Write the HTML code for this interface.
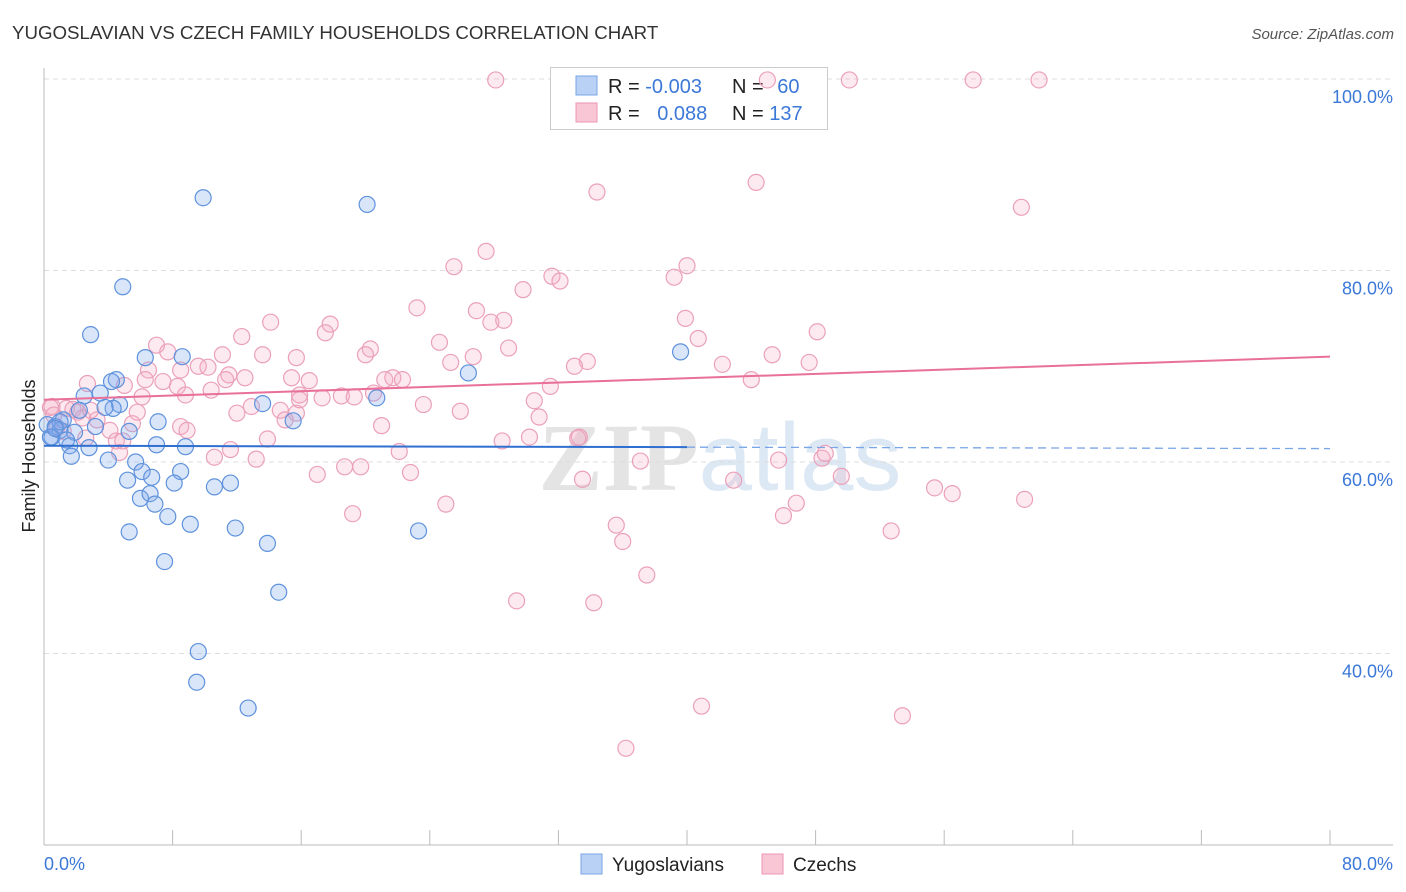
<!DOCTYPE html>
<html><head><meta charset="utf-8"><style>
body{margin:0;background:#fff;font-family:"Liberation Sans",sans-serif}
#wrap{position:relative;width:1406px;height:892px;overflow:hidden}
</style></head><body>
<div id="wrap">
<svg id="svg" width="1406" height="892" xmlns="http://www.w3.org/2000/svg">
<text x="12" y="39" font-size="18.7" fill="#333">YUGOSLAVIAN VS CZECH FAMILY HOUSEHOLDS CORRELATION CHART</text>
<text x="1394" y="39" font-size="15" fill="#555" text-anchor="end" font-style="italic">Source: ZipAtlas.com</text>
<text x="720" y="490" font-size="96" fill="#e4e4e4" text-anchor="middle" font-family="Liberation Serif" font-weight="bold">ZIP<tspan fill="#dde8f5" font-family="Liberation Sans" font-weight="normal">atlas</tspan></text>
<g id="grid"></g>
<g>
<rect x="550.5" y="67.5" width="277" height="62" fill="#fff" stroke="#ccc"/>
<rect x="576" y="76" width="21" height="19" fill="#b9d1f5" stroke="#7aa5e6"/>
<rect x="576" y="103" width="21" height="19" fill="#f9c6d6" stroke="#ec95b4"/>
<text x="608" y="93" font-size="20" fill="#222">R = <tspan fill="#3b78d8">-0.003</tspan></text>
<text x="732" y="93" font-size="20" fill="#222">N = <tspan fill="#3b78d8" dx="8">60</tspan></text>
<text x="608" y="120" font-size="20" fill="#222">R = <tspan fill="#3b78d8" dx="12">0.088</tspan></text>
<text x="732" y="120" font-size="20" fill="#222">N = <tspan fill="#3b78d8">137</tspan></text>
</g>
<g id="pts"></g><g id="lines"></g>
<text transform="translate(35,456) rotate(-90)" font-size="18" fill="#222" text-anchor="middle">Family Households</text>
<rect x="581" y="854" width="21" height="20" fill="#b9d1f5" stroke="#7aa5e6"/>
<text x="612" y="871" font-size="19" fill="#222">Yugoslavians</text>
<rect x="762" y="854" width="21" height="20" fill="#f9c6d6" stroke="#ec95b4"/>
<text x="793" y="871" font-size="19" fill="#222">Czechs</text>
</svg></div>
<script>
const yTicks=[40,60,80,100];
const xTicks=[0,8,16,24,32,40,48,56,64,72,80];
const blueX=[9.9,20.1,4.9,2.9,8.6,6.3,26.4,4.5,4.2,2.5,3.5,20.7,13.6,4.7,4.3,3.8,2.2,1.2,15.5,7.1,3.2,0.2,0.7,1.0,0.5,1.9,5.3,7.0,8.8,1.6,2.8,1.7,4.0,5.7,8.5,6.1,6.7,5.2,8.1,10.6,11.6,6.0,6.6,6.9,7.7,9.1,11.9,5.3,23.3,13.9,7.5,14.6,9.6,9.5,12.7,39.6,0.4,1.0,0.7,1.4];
const blueY=[87.6,86.9,78.3,73.3,71.0,70.9,69.3,68.6,68.4,66.9,67.2,66.7,66.1,66.0,65.6,65.7,65.4,64.4,64.3,64.2,63.7,63.9,63.7,63.3,62.6,63.1,63.2,61.8,61.6,61.7,61.5,60.6,60.2,60.0,59.0,59.0,58.4,58.1,57.8,57.4,57.8,56.2,56.7,55.6,54.3,53.5,53.1,52.7,52.8,51.5,49.6,46.4,40.2,37.0,34.3,71.5,62.6,64.2,63.5,62.3];
const pinkX=[28.1,45.0,50.1,57.8,61.9,34.4,44.3,60.8,27.5,25.5,40.0,39.2,31.6,32.1,29.8,23.2,26.9,27.8,28.6,39.9,48.1,14.1,17.8,12.3,17.5,7.0,24.6,20.3,20.0,28.9,40.7,45.3,47.6,7.7,13.6,11.1,26.7,15.7,33.8,33.0,42.2,25.3,9.6,10.2,8.5,6.5,2.7,5.0,6.3,7.4,8.3,10.4,11.5,12.5,11.3,15.4,16.5,21.2,21.7,22.3,44.0,31.5,20.5,8.8,6.1,17.3,18.5,19.3,30.5,23.6,25.9,12.9,14.7,12.0,5.8,15.7,15.0,30.8,15.9,0.5,1.4,1.8,2.1,2.4,3.3,4.1,5.5,8.5,21.0,0.8,1.2,2.6,4.5,13.9,28.5,30.2,33.2,22.1,4.7,10.6,13.2,37.1,45.7,48.4,48.6,18.7,19.7,22.8,17.0,33.5,49.6,42.9,25.0,55.4,56.5,61.0,46.8,46.0,19.2,35.6,36.0,52.7,37.5,29.4,34.2,40.9,53.4,36.2,33.3,0.4,2.9,0.6,4.9,8.9,11.6,15.9];
const pinkY=[99.9,99.9,99.9,99.9,99.9,88.2,89.2,86.6,82.0,80.4,80.5,79.3,79.4,78.9,78.0,76.1,75.8,74.6,74.8,75.0,73.6,74.6,74.4,73.1,73.5,72.2,72.5,71.8,71.2,71.9,72.9,71.2,70.4,71.5,71.2,71.2,71.0,70.9,70.5,70.0,70.2,70.4,70.0,69.9,69.6,69.6,68.2,68.0,68.6,68.4,67.9,67.5,69.1,68.8,68.6,68.8,68.5,68.6,68.8,68.6,68.6,67.9,67.2,67.0,66.8,66.7,66.9,66.8,66.4,66.0,65.3,65.8,65.4,65.1,65.2,65.1,64.4,64.7,66.5,65.8,65.6,65.5,65.2,64.6,64.4,63.3,64.0,63.7,63.8,63.6,63.2,62.5,62.2,62.4,62.2,62.6,62.5,61.1,61.0,60.5,60.3,60.1,60.2,60.4,60.9,59.5,59.5,58.9,58.7,58.2,58.5,58.1,55.6,57.3,56.7,56.1,55.7,54.4,54.6,53.4,51.7,52.8,48.2,45.5,45.3,34.5,33.5,30.1,62.6,65.7,65.4,64.9,62.2,63.3,61.3,67.0];
const blueTrend=[61.7,61.4];
const pinkTrend=[66.5,71.0];
const X=v=>44+v/80*1286, Y=v=>845-(v-20)/80*766;
const NS='http://www.w3.org/2000/svg';
function mk(t,a,p){const e=document.createElementNS(NS,t);for(const k in a)e.setAttribute(k,a[k]);p.appendChild(e);return e;}
const g=document.getElementById('grid');
yTicks.forEach(t=>{
 const l=mk('line',{x1:44,x2:1393,y1:Y(t),y2:Y(t),stroke:'#ddd','stroke-dasharray':'5,4'},g);
 
 
 const tx=mk('text',{x:1393,y:Y(t)+24,'font-size':18,fill:'#3b78d8','text-anchor':'end'},g);
 tx.textContent=t.toFixed(1)+'%';
 
 
});
mk('line',{x1:44,x2:44,y1:68,y2:845,stroke:'#bbb'},g);
mk('line',{x1:44,x2:1393,y1:845,y2:845,stroke:'#bbb'},g);
xTicks.forEach(t=>{const l=mk('line',{x1:X(t),x2:X(t),y1:830,y2:845,stroke:'#bbb'},g);
 
 });
[[0,'0.0%','start',44],[80,'80.0%','end',1393]].forEach(d=>{const tx=mk('text',{x:d[3],y:870,'font-size':18,fill:'#3b78d8','text-anchor':d[2]},g);tx.textContent=d[1];
 
 });
const p=document.getElementById('pts');
pinkX.forEach((x,i)=>{const c=mk('circle',{cx:X(x),cy:Y(pinkY[i]),r:8,fill:'rgba(244,170,196,0.25)',stroke:'#eba0ba','stroke-width':1.2},p);
 
 });
blueX.forEach((x,i)=>{const c=mk('circle',{cx:X(x),cy:Y(blueY[i]),r:8,fill:'rgba(130,170,235,0.3)',stroke:'#5f92dc','stroke-width':1.2},p);
 
 });
const L=document.getElementById('lines');
const bAt=x=>blueTrend[0]+(blueTrend[1]-blueTrend[0])*x/80;
let l1=mk('line',{x1:X(0),y1:Y(bAt(0)),x2:X(40),y2:Y(bAt(40)),stroke:'#2f6fd0','stroke-width':2},L);


let l2=mk('line',{x1:X(40),y1:Y(bAt(40)),x2:X(80),y2:Y(bAt(80)),stroke:'#7aa5e6','stroke-width':1.3,'stroke-dasharray':'8,5'},L);


let l3=mk('line',{x1:X(0),y1:Y(pinkTrend[0]),x2:X(80),y2:Y(pinkTrend[1]),stroke:'#e8709a','stroke-width':2},L);


</script>
</body></html>
